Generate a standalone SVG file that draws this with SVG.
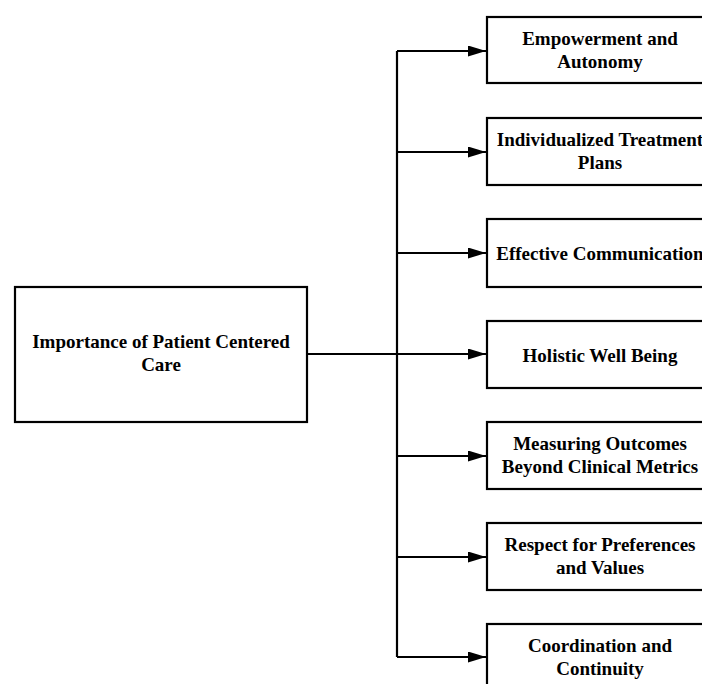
<svg xmlns="http://www.w3.org/2000/svg" width="702" height="684" viewBox="0 0 702 684">
<style>
.box{fill:#fff;stroke:#000;stroke-width:2.2}
.t{font-family:"Liberation Serif","Times New Roman",serif;font-weight:bold;font-size:19px;fill:#000;text-anchor:middle}
.ln{stroke:#000;stroke-width:2.2;fill:none}
</style>
<defs>
<marker id="ah" markerUnits="userSpaceOnUse" markerWidth="19" markerHeight="11" refX="18" refY="5.5" orient="auto">
<path d="M0,0 L18,5.5 L0,11 z" fill="#000"/>
</marker>
</defs>
<rect width="702" height="684" fill="#fff"/>
<g id="connectors">
<path class="ln" d="M397,51 V657"/>
<path class="ln" d="M307,354 H486" marker-end="url(#ah)"/>
<path class="ln" d="M397,51 H486" marker-end="url(#ah)"/>
<path class="ln" d="M397,152 H486" marker-end="url(#ah)"/>
<path class="ln" d="M397,253 H486" marker-end="url(#ah)"/>
<path class="ln" d="M397,456 H486" marker-end="url(#ah)"/>
<path class="ln" d="M397,557 H486" marker-end="url(#ah)"/>
<path class="ln" d="M397,657 H486" marker-end="url(#ah)"/>
</g>
<g id="center">
<rect class="box" x="15" y="287" width="292" height="135"/>
<text class="t" x="161" y="348">Importance of Patient Centered</text>
<text class="t" x="161" y="371">Care</text>
</g>
<g id="n1">
<rect class="box" x="487" y="17" width="230" height="66"/>
<text class="t" x="600" y="45">Empowerment and</text>
<text class="t" x="600" y="68">Autonomy</text>
</g>
<g id="n2">
<rect class="box" x="487" y="118" width="230" height="67"/>
<text class="t" x="600" y="146">Individualized Treatment</text>
<text class="t" x="600" y="169">Plans</text>
</g>
<g id="n3">
<rect class="box" x="487" y="219" width="230" height="68"/>
<text class="t" x="600" y="260">Effective Communication</text>
</g>
<g id="n4">
<rect class="box" x="487" y="321" width="230" height="67"/>
<text class="t" x="600" y="362">Holistic Well Being</text>
</g>
<g id="n5">
<rect class="box" x="487" y="422" width="230" height="67"/>
<text class="t" x="600" y="450">Measuring Outcomes</text>
<text class="t" x="600" y="473">Beyond Clinical Metrics</text>
</g>
<g id="n6">
<rect class="box" x="487" y="523" width="230" height="67"/>
<text class="t" x="600" y="551">Respect for Preferences</text>
<text class="t" x="600" y="574">and Values</text>
</g>
<g id="n7">
<rect class="box" x="487" y="624" width="230" height="67"/>
<text class="t" x="600" y="652">Coordination and</text>
<text class="t" x="600" y="675">Continuity</text>
</g>
</svg>
